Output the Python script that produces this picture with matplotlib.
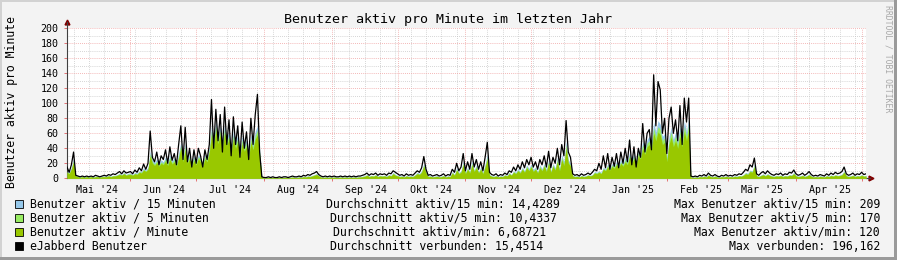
import matplotlib
matplotlib.use("Agg")
import matplotlib.pyplot as plt
import matplotlib.dates as mdates
from matplotlib.patches import Rectangle
import numpy as np
import pandas as pd

plt.rcParams["font.family"] = ["DejaVu Sans Mono"]

START = "2024-05-03"
TITLE = "Benutzer aktiv pro Minute im letzten Jahr"
Y_LABEL = "Benutzer aktiv pro Minute"
MONTH_LABELS = ["Mai '24", "Jun '24", "Jul '24", "Aug '24", "Sep '24", "Okt '24",
                "Nov '24", "Dez '24", "Jan '25", "Feb '25", "Mär '25", "Apr '25"]
Y_TICKS = [0, 20, 40, 60, 80, 100, 120, 140, 160, 180, 200]

# eJabberd Benutzer (black line), one value per day
users = [
    15, 8, 18, 35, 4, 3, 2, 3, 2, 3, 2, 3, 2, 4, 3, 2, 3, 4, 3, 5, 4, 6, 5, 7, 9, 6, 10, 7, 8,
    9, 6, 11, 8, 14, 10, 19, 12, 20, 63, 28, 22, 35, 18, 30, 25, 38, 20, 42, 24, 33, 18, 45, 70, 25, 68, 22, 40, 15, 38,
    20, 40, 30, 15, 38, 25, 45, 105, 40, 92, 50, 85, 35, 95, 45, 78, 30, 82, 45, 70, 28, 75, 40, 62, 25, 80, 45, 85, 112, 35, 2,
    1, 1, 2, 1, 2, 1, 1, 2, 1, 2, 2, 1, 2, 3, 2, 2, 3, 2, 4, 3, 5, 4, 6, 7, 9, 5, 3, 2, 3, 2, 3,
    2, 3, 2, 2, 3, 2, 3, 2, 3, 2, 3, 2, 3, 3, 4, 5, 7, 4, 6, 5, 7, 4, 6, 5, 6, 4, 7, 6, 10, 8,
    6, 4, 5, 3, 6, 4, 5, 4, 7, 10, 8, 14, 29, 12, 4, 5, 3, 4, 5, 3, 4, 6, 3, 5, 4, 12, 8, 20, 10, 15, 33,
    10, 22, 12, 33, 15, 25, 12, 22, 10, 28, 48, 8, 5, 4, 6, 3, 5, 4, 7, 5, 10, 8, 15, 10, 18, 12, 22, 14, 25, 18,
    28, 15, 22, 12, 25, 18, 30, 15, 36, 14, 28, 20, 40, 18, 45, 30, 77, 35, 28, 6, 4, 5, 3, 6, 4, 5, 7, 5, 8, 12, 10,
    20, 12, 30, 14, 33, 12, 28, 16, 33, 14, 35, 20, 40, 22, 51, 18, 42, 15, 40, 28, 73, 35, 60, 65, 38, 138, 70, 129, 118, 60, 80,
    33, 80, 95, 60, 78, 50, 97, 45, 107, 75, 107, 3, 2, 3, 2, 4, 3, 5, 3, 7, 4, 3, 5, 3, 2, 4, 3, 5,
    3, 4, 3, 5, 4, 6, 5, 8, 12, 10, 18, 15, 27, 6, 4, 7, 9, 6, 10, 7, 5, 4, 6, 5, 7, 4, 6, 5, 8, 7, 11,
    6, 4, 5, 7, 4, 6, 9, 5, 3, 4, 3, 5, 4, 3, 6, 4, 7, 5, 8, 6, 7, 9, 15, 6, 4, 5, 7, 4, 6, 5,
    8, 5, 6,
]

# Benutzer aktiv / Minute
active_1 = [
    8, 6, 12, 22, 3, 2, 1, 2, 1, 2, 1, 2, 1, 2, 2, 1, 2, 2, 2, 3, 2, 3, 3, 4, 5, 4, 6, 4, 5,
    5, 4, 6, 5, 8, 7, 11, 9, 12, 30, 20, 17, 21, 16, 20, 18, 23, 17, 25, 19, 22, 16, 27, 40, 22, 38, 20, 26, 16, 24,
    18, 26, 22, 16, 26, 22, 34, 58, 40, 64, 46, 58, 40, 60, 44, 52, 34, 52, 40, 48, 30, 46, 36, 42, 28, 48, 38, 52, 58, 30, 1,
    0.5, 0.5, 1, 0.5, 1, 0.5, 0.5, 1, 0.5, 1, 1, 0.5, 1, 1.5, 1, 1, 1.5, 1, 2, 1.5, 2.5, 2, 3, 4, 5, 3, 1.5, 1, 1.5, 1, 1.5,
    1, 1.5, 1, 1, 1.5, 1, 1.5, 1, 1.5, 1, 1.5, 1, 1.5, 1.5, 2, 2.5, 4, 2, 3, 2.5, 4, 2, 3, 2.5, 3, 2, 4, 3, 6, 4,
    3, 2, 2.5, 1.5, 3, 2, 2.5, 2, 4, 6, 5, 8, 16, 7, 2, 2.5, 1.5, 2, 2.5, 1.5, 2, 3, 1.5, 2.5, 2, 7, 4, 11, 6, 8, 18,
    6, 12, 7, 18, 9, 14, 7, 12, 6, 15, 25, 4, 2.5, 2, 3, 1.5, 2.5, 2, 4, 3, 6, 4, 8, 6, 10, 7, 12, 8, 14, 10,
    15, 9, 12, 7, 14, 10, 16, 9, 20, 8, 16, 11, 22, 10, 25, 17, 40, 20, 16, 3, 2, 2.5, 1.5, 3, 2, 2.5, 4, 3, 4, 7, 6,
    8, 6, 12, 10, 15, 11, 16, 13, 18, 14, 20, 16, 22, 18, 28, 20, 26, 18, 30, 26, 40, 32, 42, 45, 38, 60, 50, 62, 58, 45, 48,
    22, 45, 55, 42, 50, 40, 56, 42, 62, 50, 64, 1.5, 1, 1.5, 1, 2, 1.5, 2.5, 1.5, 4, 2, 1.5, 2.5, 1.5, 1, 2, 1.5, 2.5,
    1.5, 2, 1.5, 2.5, 2, 3, 2.5, 4, 6, 5, 9, 8, 15, 3, 2, 3.5, 4.5, 3, 5, 3.5, 2.5, 2, 3, 2.5, 3.5, 2, 3, 2.5, 4, 3.5, 6,
    3, 2, 2.5, 3.5, 2, 3, 4.5, 2.5, 1.5, 2, 1.5, 2.5, 2, 1.5, 3, 2, 3.5, 2.5, 4, 3, 3.5, 4.5, 8, 3, 2, 2.5, 3.5, 2, 3, 2.5,
    4, 2.5, 3,
]

# Benutzer aktiv / 5 Minuten
active_5 = [
    9, 7, 13, 24, 3.5, 2.5, 1.5, 2.5, 1.5, 2.5, 1.5, 2.5, 1.5, 2.5, 2.5, 1.5, 2.5, 2.5, 2.5, 3.5, 2.5, 3.5, 3.5, 4.5, 6, 4.5, 7, 4.5, 6,
    6, 4.5, 7, 6, 9, 8, 12, 10, 13, 33, 22, 19, 23, 18, 22, 20, 26, 19, 28, 21, 25, 18, 30, 44, 25, 42, 22, 29, 18, 27,
    20, 29, 25, 18, 29, 25, 38, 64, 45, 70, 51, 64, 45, 66, 49, 57, 38, 57, 45, 53, 34, 51, 40, 47, 31, 53, 42, 57, 64, 34, 1.5,
    0.7, 0.7, 1.2, 0.7, 1.2, 0.7, 0.7, 1.2, 0.7, 1.2, 1.2, 0.7, 1.2, 1.7, 1.2, 1.2, 1.7, 1.2, 2.5, 1.7, 3, 2.5, 3.5, 4.5, 5.5, 3.5, 1.7, 1.2, 1.7, 1.2, 1.7,
    1.2, 1.7, 1.2, 1.2, 1.7, 1.2, 1.7, 1.2, 1.7, 1.2, 1.7, 1.2, 1.7, 1.7, 2.5, 3, 4.5, 2.5, 3.5, 3, 4.5, 2.5, 3.5, 3, 3.5, 2.5, 4.5, 3.5, 7, 4.5,
    3.5, 2.5, 3, 1.7, 3.5, 2.5, 3, 2.5, 4.5, 7, 5.5, 9, 18, 8, 2.5, 3, 1.7, 2.5, 3, 1.7, 2.5, 3.5, 1.7, 3, 2.5, 8, 4.5, 12, 7, 9, 20,
    7, 13, 8, 20, 10, 16, 8, 13, 7, 17, 28, 4.5, 3, 2.5, 3.5, 1.7, 3, 2.5, 4.5, 3.5, 7, 4.5, 9, 7, 11, 8, 13, 9, 16, 11,
    17, 10, 13, 8, 16, 11, 18, 10, 22, 9, 18, 12, 25, 11, 28, 19, 45, 22, 18, 3.5, 2.5, 3, 1.7, 3.5, 2.5, 3, 4.5, 3.5, 4.5, 8, 7,
    9, 7, 13, 11, 17, 12, 18, 15, 20, 16, 22, 18, 25, 20, 31, 22, 29, 20, 34, 29, 45, 36, 47, 50, 43, 67, 56, 69, 65, 50, 54,
    25, 50, 62, 47, 56, 45, 63, 47, 69, 56, 72, 1.7, 1.2, 1.7, 1.2, 2.5, 1.7, 3, 1.7, 4.5, 2.5, 1.7, 3, 1.7, 1.2, 2.5, 1.7, 3,
    1.7, 2.5, 1.7, 3, 2.5, 3.5, 3, 4.5, 7, 5.5, 10, 9, 17, 3.5, 2.5, 4, 5, 3.5, 5.5, 4, 3, 2.5, 3.5, 3, 4, 2.5, 3.5, 3, 4.5, 4, 7,
    3.5, 2.5, 3, 4, 2.5, 3.5, 5, 3, 1.7, 2.5, 1.7, 3, 2.5, 1.7, 3.5, 2.5, 4, 3, 4.5, 3.5, 4, 5, 9, 3.5, 2.5, 3, 4, 2.5, 3.5, 3,
    4.5, 3, 3.5,
]

# Benutzer aktiv / 15 Minuten
active_15 = [
    10, 8, 15, 27, 4, 3, 2, 3, 2, 3, 2, 3, 2, 3, 3, 2, 3, 3, 3, 4, 3, 4, 4, 5, 7, 5, 8, 5, 7,
    7, 5, 8, 7, 10, 9, 14, 11, 15, 36, 25, 21, 26, 20, 25, 22, 29, 21, 31, 24, 27, 20, 34, 48, 27, 46, 25, 32, 20, 30,
    22, 32, 27, 20, 32, 27, 42, 70, 50, 76, 56, 70, 50, 72, 54, 63, 42, 63, 50, 58, 37, 56, 44, 52, 34, 58, 47, 63, 70, 37, 2,
    1, 1, 1.5, 1, 1.5, 1, 1, 1.5, 1, 1.5, 1.5, 1, 1.5, 2, 1.5, 1.5, 2, 1.5, 3, 2, 3.5, 3, 4, 5, 6.5, 4, 2, 1.5, 2, 1.5, 2,
    1.5, 2, 1.5, 1.5, 2, 1.5, 2, 1.5, 2, 1.5, 2, 1.5, 2, 2, 3, 3.5, 5, 3, 4, 3.5, 5, 3, 4, 3.5, 4, 3, 5, 4, 8, 5,
    4, 3, 3.5, 2, 4, 3, 3.5, 3, 5, 8, 6.5, 10, 20, 9, 3, 3.5, 2, 3, 3.5, 2, 3, 4, 2, 3.5, 3, 9, 5, 14, 8, 10, 23,
    8, 15, 9, 23, 11, 18, 9, 15, 8, 19, 32, 5, 3.5, 3, 4, 2, 3.5, 3, 5, 4, 8, 5, 10, 8, 13, 9, 15, 10, 18, 13,
    19, 12, 15, 9, 18, 13, 20, 12, 25, 10, 20, 14, 28, 13, 32, 22, 50, 25, 20, 4, 3, 3.5, 2, 4, 3, 3.5, 5, 4, 5, 9, 8,
    10, 8, 15, 12, 19, 14, 20, 16, 23, 18, 25, 20, 28, 23, 35, 25, 33, 23, 38, 33, 50, 40, 52, 56, 48, 75, 62, 77, 72, 56, 60,
    28, 56, 68, 52, 62, 50, 70, 52, 77, 62, 80, 2, 1.5, 2, 1.5, 3, 2, 3.5, 2, 5, 3, 2, 3.5, 2, 1.5, 3, 2, 3.5,
    2, 3, 2, 3.5, 3, 4, 3.5, 5, 8, 6.5, 11, 10, 19, 4, 3, 4.5, 6, 4, 6.5, 4.5, 3.5, 3, 4, 3.5, 4.5, 3, 4, 3.5, 5, 4.5, 8,
    4, 3, 3.5, 4.5, 3, 4, 6, 3.5, 2, 3, 2, 3.5, 3, 2, 4, 3, 4.5, 3.5, 5, 4, 4.5, 6, 10, 4, 3, 3.5, 4.5, 3, 4, 3.5,
    5, 3.5, 4,
]

LEGEND_NAMES = ["Benutzer aktiv / 15 Minuten", "Benutzer aktiv / 5 Minuten",
                "Benutzer aktiv / Minute", "eJabberd Benutzer"]
LEGEND_AVG = ["Durchschnitt aktiv/15 min: 14,4289", "Durchschnitt aktiv/5 min: 10,4337",
              "Durchschnitt aktiv/min: 6,68721", "Durchschnitt verbunden: 15,4514"]
LEGEND_MAX = ["Max Benutzer aktiv/15 min: 209", "Max Benutzer aktiv/5 min: 170",
              "Max Benutzer aktiv/min: 120", "Max verbunden: 196,162"]

C_15 = "#96c8ea"
C_5 = "#98ec62"
C_1 = "#99c800"
C_USERS = "#000000"
LEGEND_COLORS = [C_15, C_5, C_1, C_USERS]

W, H = 897, 260


def fx(px):
    return px / W


def fy(py):
    return 1 - py / H


n = len(users)
assert len(active_1) == n and len(active_5) == n and len(active_15) == n, (n, len(active_1), len(active_5), len(active_15))
days = pd.date_range(START, periods=n, freq="D")
x = mdates.date2num(days.to_pydatetime())

fig = plt.figure(figsize=(W / 100, H / 100), dpi=100)
fig.patch.set_facecolor("#f3f3f3")

# rrdtool style shaded frame
fig.add_artist(Rectangle((0, fy(2)), 1, 2 / H, transform=fig.transFigure, color="#d2d2d2", lw=0))
fig.add_artist(Rectangle((0, 0), 2 / W, 1, transform=fig.transFigure, color="#d2d2d2", lw=0))
fig.add_artist(Rectangle((0, 0), 1, 3 / H, transform=fig.transFigure, color="#9a9a9a", lw=0))
fig.add_artist(Rectangle((fx(W - 3), 0), 3 / W, 1, transform=fig.transFigure, color="#9a9a9a", lw=0))

ax = fig.add_axes([fx(67), fy(178.3), fx(866 - 67), 150 / H])
ax.set_facecolor("white")

ax.fill_between(x, active_15, color=C_15, lw=0, zorder=2)
ax.fill_between(x, active_5, color=C_5, lw=0, zorder=3)
ax.fill_between(x, active_1, color=C_1, lw=0, zorder=4)
ax.plot(x, users, color=C_USERS, lw=0.9, zorder=5)

ax.set_xlim(x[0], x[-1])
ax.set_ylim(0, 200)

# grids
ax.xaxis.set_major_locator(mdates.MonthLocator())
ax.xaxis.set_minor_locator(mdates.WeekdayLocator(byweekday=mdates.MO))
ax.xaxis.set_major_formatter(plt.NullFormatter())
ax.set_yticks(Y_TICKS)
ax.yaxis.set_minor_locator(plt.MultipleLocator(10))
ax.grid(which="minor", color="#c8c8c8", lw=0.6, ls=(0, (1, 1.5)), zorder=1)
ax.grid(which="major", color="#f0a0a0", lw=0.6, ls=(0, (1, 1.5)), zorder=1)
ax.set_axisbelow(True)

ax.tick_params(axis="y", which="major", length=2, width=0.6, color="#e06060", pad=4,
               labelsize=7.2, labelcolor="#000000")
ax.tick_params(axis="x", which="major", length=2, width=0.6, color="#e06060", labelsize=7)
ax.tick_params(which="minor", length=0)

for side in ("top", "right"):
    ax.spines[side].set_visible(False)
for side in ("left", "bottom"):
    ax.spines[side].set_color("#404040")
    ax.spines[side].set_linewidth(0.8)

# axis arrows
ax.plot([0], [1.045], marker="^", color="#800000", ms=3.5, transform=ax.transAxes, clip_on=False)
ax.plot([1.006], [0], marker=">", color="#800000", ms=3.5, transform=ax.transAxes, clip_on=False)
ax.plot([0, 0], [1, 1.04], color="#404040", lw=0.8, transform=ax.transAxes, clip_on=False)
ax.plot([1, 1.005], [0, 0], color="#404040", lw=0.8, transform=ax.transAxes, clip_on=False)

# month labels centred between month starts
month_starts = pd.date_range("2024-05-01", periods=len(MONTH_LABELS), freq="MS")
label_pos = mdates.date2num((month_starts + pd.Timedelta(hours=372)).to_pydatetime())
trans = ax.get_xaxis_transform()
for pos, lab in zip(label_pos, MONTH_LABELS):
    ax.text(pos, -0.045, lab, transform=trans, ha="center", va="top", fontsize=7.2, clip_on=False)

fig.text(fx(448), fy(19), TITLE, ha="center", va="center", fontsize=9.6)
fig.text(fx(12), fy(102), Y_LABEL, ha="center", va="center", rotation=90, fontsize=8.3)
fig.text(fx(888), fy(5), "RRDTOOL / TOBI OETIKER", ha="center", va="top", rotation=270,
         fontsize=5.9, color="#a8a8a8")

row_y = [204, 218, 232, 246]
avg_x = [326, 330, 333, 330]
for i in range(4):
    fig.add_artist(Rectangle((fx(15), fy(row_y[i] + 4)), 8 / W, 8 / H, transform=fig.transFigure,
                             facecolor=LEGEND_COLORS[i], edgecolor="#000000", lw=0.6))
    fig.text(fx(30), fy(row_y[i]), LEGEND_NAMES[i], ha="left", va="center", fontsize=8.3)
    fig.text(fx(avg_x[i]), fy(row_y[i]), LEGEND_AVG[i], ha="left", va="center", fontsize=8.3)
    fig.text(fx(880), fy(row_y[i]), LEGEND_MAX[i], ha="right", va="center", fontsize=8.3)

fig.savefig("out.png", dpi=100, facecolor=fig.get_facecolor())
